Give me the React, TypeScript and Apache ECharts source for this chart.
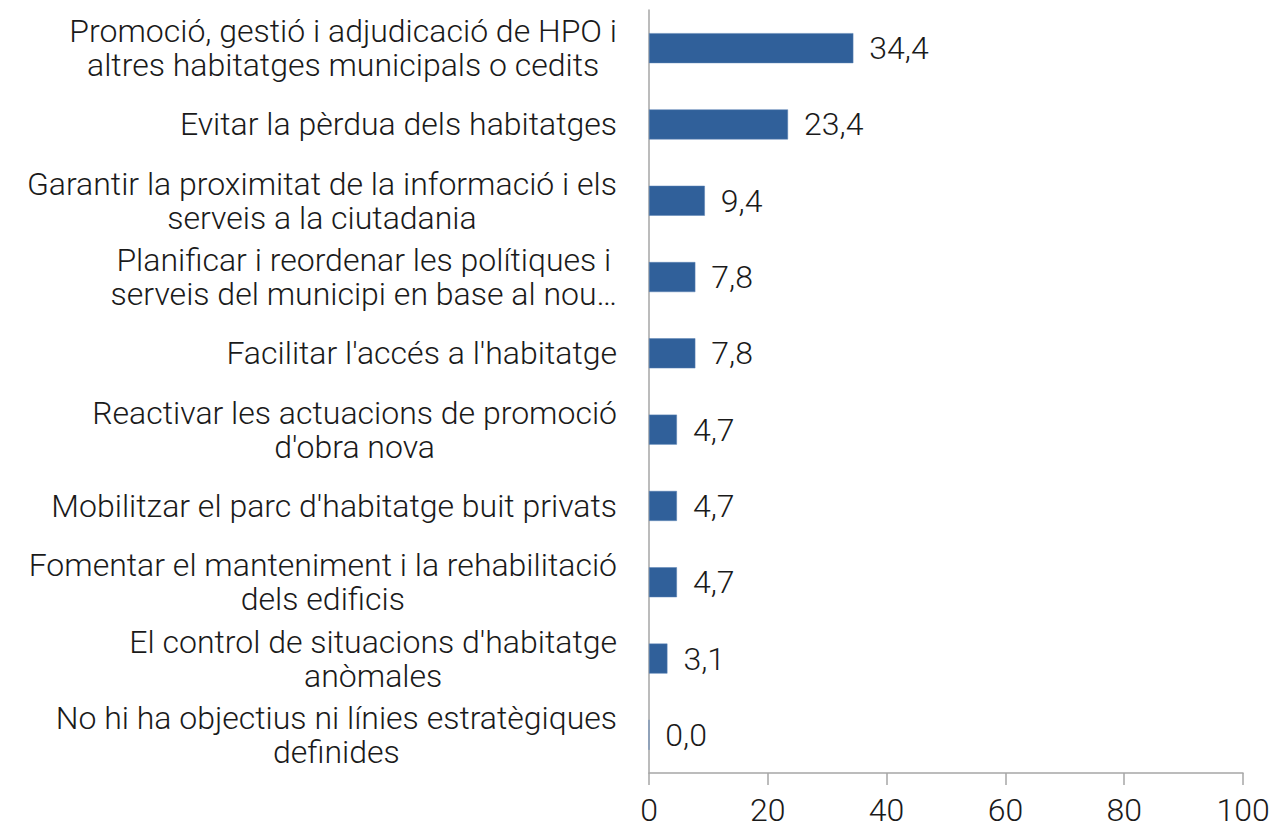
import React, { useEffect, useRef } from "react";
import * as echarts from "echarts";

const categories = [
  "Promoció, gestió i adjudicació de HPO i\naltres habitatges municipals o cedits",
  "Evitar la pèrdua dels habitatges",
  "Garantir la proximitat de la informació i els\nserveis a la ciutadania",
  "Planificar i reordenar les polítiques i\nserveis del municipi en base al nou…",
  "Facilitar l'accés a l'habitatge",
  "Reactivar les actuacions de promoció\nd'obra nova",
  "Mobilitzar el parc d'habitatge buit privats",
  "Fomentar el manteniment i la rehabilitació\ndels edificis",
  "El control de situacions d'habitatge\nanòmales",
  "No hi ha objectius ni línies estratègiques\ndefinides",
];
const values = [34.4, 23.4, 9.4, 7.8, 7.8, 4.7, 4.7, 4.7, 3.1, 0.0];
const xTicks = [0, 20, 40, 60, 80, 100];

const FONT = "Roboto";
const FS = 32;

export default function App() {
  const ref = useRef<HTMLDivElement>(null);
  useEffect(() => {
    if (!ref.current) return;
    const chart = echarts.init(ref.current, undefined, { renderer: "svg" });
    chart.setOption({
      animation: false,
      grid: { left: 649, right: 30, top: 10, bottom: 56, containLabel: false },
      xAxis: {
        type: "value",
        min: xTicks[0],
        max: xTicks[xTicks.length - 1],
        interval: 20,
        splitLine: { show: false },
        axisLine: { show: true, lineStyle: { color: "#A6A6A6", width: 1.5 } },
        axisTick: { show: true, length: 12, lineStyle: { color: "#A6A6A6", width: 1.5 } },
        axisLabel: {
          fontFamily: FONT,
          fontWeight: 300,
          fontSize: FS,
          lineHeight: 34,
          color: "#1a1a1a",
          margin: 20,
        },
      },
      yAxis: {
        type: "category",
        data: categories,
        inverse: true,
        axisLine: { show: true, lineStyle: { color: "#A6A6A6", width: 1.5 } },
        axisTick: { show: false },
        axisLabel: {
          margin: 32,
          interval: 0,
          formatter: (v: string) =>
            v
              .split("\n")
              .map((l) => `{c|${l}}`)
              .join("\n"),
          rich: {
            c: {
              align: "center",
              fontFamily: FONT,
              fontWeight: 300,
              fontSize: FS,
              lineHeight: 34,
              color: "#1a1a1a",
            },
          },
        },
      },
      series: [
        {
          type: "bar",
          data: values,
          barWidth: 30,
          itemStyle: { color: "#30609A", borderColor: "#5a82b5", borderWidth: 0.5 },
          label: {
            show: true,
            position: "right",
            distance: 16,
            fontFamily: FONT,
            fontWeight: 300,
            fontSize: FS,
            color: "#1a1a1a",
            formatter: (p: any) => p.value.toFixed(1).replace(".", ","),
          },
        },
      ],
    });
    return () => chart.dispose();
  }, []);
  return <div ref={ref} style={{ width: 1273, height: 829, position: "absolute", left: 0, top: 0 }} />;
}
